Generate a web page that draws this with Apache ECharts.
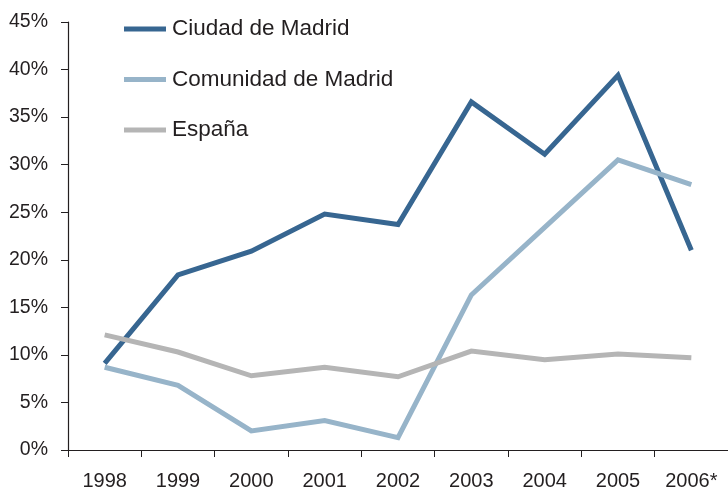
<!DOCTYPE html>
<html>
<head>
<meta charset="utf-8">
<script src="https://cdn.jsdelivr.net/npm/echarts@6/dist/echarts.min.js"></script>
<style>html,body{margin:0;padding:0;background:#fff}#c{width:728px;height:490px}</style>
</head>
<body>
<div id="c"></div>
<script>
const categories = ['1998','1999','2000','2001','2002','2003','2004','2005','2006*'];
const ciudad = [9.1, 18.4, 20.9, 24.8, 23.7, 36.6, 31.1, 39.4, 21.0];
const comunidad = [8.7, 6.8, 2.0, 3.1, 1.3, 16.3, 23.4, 30.5, 27.9];
const espana = [12.1, 10.3, 7.8, 8.7, 7.7, 10.4, 9.5, 10.1, 9.7];
const seriesNames = ['Ciudad de Madrid', 'Comunidad de Madrid', 'España'];
const colors = ['#376691', '#97b4c9', '#b5b5b5'];

const font = '"Liberation Sans", Arial, sans-serif';
const chart = echarts.init(document.getElementById('c'));
const mk = (name, data, color) => ({
  name, type: 'line', data, symbol: 'none', color,
  lineStyle: { width: 5, color, cap: 'butt', join: 'miter' },
  emphasis: { disabled: true }, animation: false
});
chart.setOption({
  animation: false,
  grid: { left: 68, right: 0, top: 22, bottom: 40, containLabel: false, outerBoundsMode: 'none' },
  legend: {
    orient: 'vertical', left: 119, top: 11,
    itemWidth: 42, itemHeight: 5, itemGap: 24.5, icon: 'rect',
    textStyle: { fontFamily: font, fontSize: 22.5, color: '#231f20', lineHeight: 26, padding: [0,0,0,1] },
    data: seriesNames
  },
  xAxis: {
    type: 'category', data: categories, boundaryGap: true,
    axisLine: { lineStyle: { color: '#231f20', width: 1.2 } },
    axisTick: { show: true, interval: 0, length: 7, alignWithLabel: false, lineStyle: { color: '#231f20' } },
    axisLabel: { interval: 0, margin: 21, fontFamily: font, fontSize: 20, color: '#231f20' },
    splitLine: { show: false }
  },
  yAxis: {
    type: 'value', min: 0, max: 45, interval: 5,
    axisLine: { show: true, lineStyle: { color: '#231f20', width: 1.2 } },
    axisTick: { show: true, length: 7, lineStyle: { color: '#231f20' } },
    axisLabel: { margin: 20, fontFamily: font, fontSize: 19.5, color: '#231f20', formatter: '{value}%' },
    splitLine: { show: false }
  },
  series: [
    mk(seriesNames[0], ciudad, colors[0]),
    mk(seriesNames[1], comunidad, colors[1]),
    mk(seriesNames[2], espana, colors[2])
  ]
});
</script>
</body>
</html>
